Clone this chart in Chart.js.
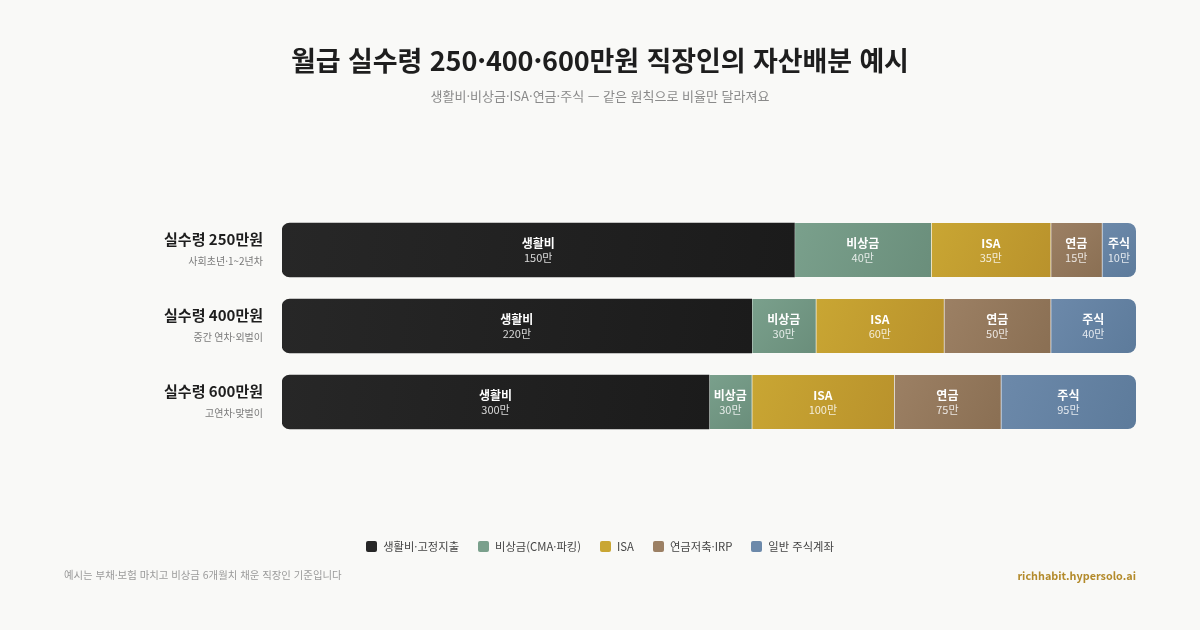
<!DOCTYPE html>
<html lang="ko">
<head>
<meta charset="utf-8">
<script src="https://cdn.jsdelivr.net/npm/chart.js@4.4.1/dist/chart.umd.min.js"></script>
<style>
  html, body { margin: 0; padding: 0; }
  body {
    width: 1200px; height: 630px; position: relative; overflow: hidden;
    background: #f9f9f7;
    font-family: "Noto Sans CJK KR", "Noto Sans", sans-serif;
  }
  #chart { position: absolute; left: 0; top: 0; }
  .title {
    position: absolute; top: 40px; left: 0; width: 1200px; text-align: center;
    font-size: 27px; font-weight: 700; color: #1e1e1e; letter-spacing: -0.1px;
  }
  .subtitle {
    position: absolute; top: 86px; left: 0; width: 1200px; text-align: center;
    font-size: 13px; color: #8a8a8a;
  }
  .legend {
    position: absolute; top: 538px; left: 0; width: 1200px;
    display: flex; justify-content: center; gap: 19px;
    font-size: 11.3px; color: #444;
  }
  .legend span { display: flex; align-items: center; }
  .legend i { display: inline-block; width: 11px; height: 11px; border-radius: 2px; margin-right: 6px; }
  .foot-left { position: absolute; left: 64px; top: 567px; font-size: 10.4px; color: #9a9a9a; }
  .foot-right { position: absolute; right: 64px; top: 567px; font-size: 10.8px; font-weight: 700; color: #b38a2a; }
</style>
</head>
<body>
<canvas id="chart" width="1200" height="630"></canvas>
<div class="title">월급 실수령 250·400·600만원 직장인의 자산배분 예시</div>
<div class="subtitle">생활비·비상금·ISA·연금·주식 — 같은 원칙으로 비율만 달라져요</div>
<div class="legend" id="legend"></div>
<div class="foot-left">예시는 부채·보험 마치고 비상금 6개월치 채운 직장인 기준입니다</div>
<div class="foot-right">richhabit.hypersolo.ai</div>

<script>
// 데이터
var rowLabels = ["실수령 250만원", "실수령 400만원", "실수령 600만원"];
var rowSubLabels = ["사회초년·1~2년차", "중간 연차·외벌이", "고연차·맞벌이"];
var segNames = ["생활비", "비상금", "ISA", "연금", "주식"];
var legendNames = ["생활비·고정지출", "비상금(CMA·파킹)", "ISA", "연금저축·IRP", "일반 주식계좌"];
var livingValues = [150, 220, 300];
var emergencyValues = [40, 30, 30];
var isaValues = [35, 60, 100];
var pensionValues = [15, 50, 75];
var stockValues = [10, 40, 95];

var colorStart = ["#272727", "#7aa08c", "#c9a633", "#9c8064", "#6c89aa"];
var colorEnd = ["#1b1b1b", "#6a8e7b", "#b9922c", "#8a6f53", "#5d7b9b"];

var seriesValues = [livingValues, emergencyValues, isaValues, pensionValues, stockValues];
var totals = rowLabels.map(function(_, r) {
  return seriesValues.reduce(function(s, arr) { return s + arr[r]; }, 0);
});

// 범례
var legendEl = document.getElementById('legend');
legendNames.forEach(function(name, i) {
  var s = document.createElement('span');
  s.innerHTML = '<i style="background:' + colorStart[i] + '"></i>' + name;
  legendEl.appendChild(s);
});

function makeGradient(context, i) {
  var chart = context.chart;
  if (!chart.chartArea || !chart.scales.x) return colorStart[i];
  var r = context.dataIndex;
  var start = 0;
  for (var k = 0; k < i; k++) start += seriesValues[k][r] / totals[r] * 100;
  var end = start + seriesValues[i][r] / totals[r] * 100;
  var x0 = chart.scales.x.getPixelForValue(start);
  var x1 = chart.scales.x.getPixelForValue(end);
  var yc = chart.scales.y.getPixelForValue(r);
  var g = chart.ctx.createLinearGradient(x0, yc - 27, x1, yc + 27);
  g.addColorStop(0, colorStart[i]);
  g.addColorStop(1, colorEnd[i]);
  return g;
}

var datasets = seriesValues.map(function(arr, i) {
  var radius = 0;
  if (i === 0) radius = { topLeft: 8, bottomLeft: 8, topRight: 0, bottomRight: 0 };
  if (i === seriesValues.length - 1) radius = { topLeft: 0, bottomLeft: 0, topRight: 8, bottomRight: 8 };
  return {
    label: legendNames[i],
    data: arr.map(function(v, r) { return v / totals[r] * 100; }),
    raw: arr,
    backgroundColor: function(ctx) { return makeGradient(ctx, i); },
    borderColor: "rgba(255,255,255,0.35)",
    borderWidth: i === 0 ? 0 : { left: 1, right: 0, top: 0, bottom: 0 },
    borderSkipped: false,
    borderRadius: radius,
    barThickness: 54
  };
});

var segmentLabels = {
  id: 'segmentLabels',
  afterDatasetsDraw: function(chart) {
    var ctx = chart.ctx;
    ctx.save();
    ctx.textAlign = 'center';
    ctx.textBaseline = 'middle';
    chart.data.datasets.forEach(function(ds, i) {
      chart.getDatasetMeta(i).data.forEach(function(bar, r) {
        var cx = (bar.x + bar.base) / 2;
        ctx.fillStyle = '#ffffff';
        ctx.font = '700 12px "Noto Sans CJK KR"';
        ctx.fillText(segNames[i], cx, bar.y - 7);
        ctx.fillStyle = 'rgba(255,255,255,0.82)';
        ctx.font = '400 11px "Noto Sans CJK KR"';
        ctx.fillText(ds.raw[r] + '만', cx, bar.y + 8);
      });
    });
    ctx.restore();
  }
};

var rowLabelPlugin = {
  id: 'rowLabels',
  afterDraw: function(chart) {
    var ctx = chart.ctx;
    var y = chart.scales.y;
    ctx.save();
    ctx.textAlign = 'right';
    ctx.textBaseline = 'middle';
    rowLabels.forEach(function(label, r) {
      var yc = y.getPixelForValue(r);
      ctx.fillStyle = '#1e1e1e';
      ctx.font = '700 15px "Noto Sans CJK KR"';
      ctx.fillText(label, 263, yc - 11);
      ctx.fillStyle = '#7a7a7a';
      ctx.font = '400 10px "Noto Sans CJK KR"';
      ctx.fillText(rowSubLabels[r], 263, yc + 11);
    });
    ctx.restore();
  }
};

var chart = new Chart(document.getElementById('chart').getContext('2d'), {
  type: 'bar',
  data: { labels: rowLabels, datasets: datasets },
  options: {
    indexAxis: 'y',
    responsive: false,
    animation: false,
    layout: { padding: { left: 282, right: 64, top: 212, bottom: 190 } },
    scales: {
      x: { stacked: true, min: 0, max: 100, display: false },
      y: { stacked: true, display: false }
    },
    plugins: {
      legend: { display: false },
      tooltip: { enabled: false }
    }
  },
  plugins: [segmentLabels, rowLabelPlugin]
});
chart.update();
</script>
</body>
</html>
